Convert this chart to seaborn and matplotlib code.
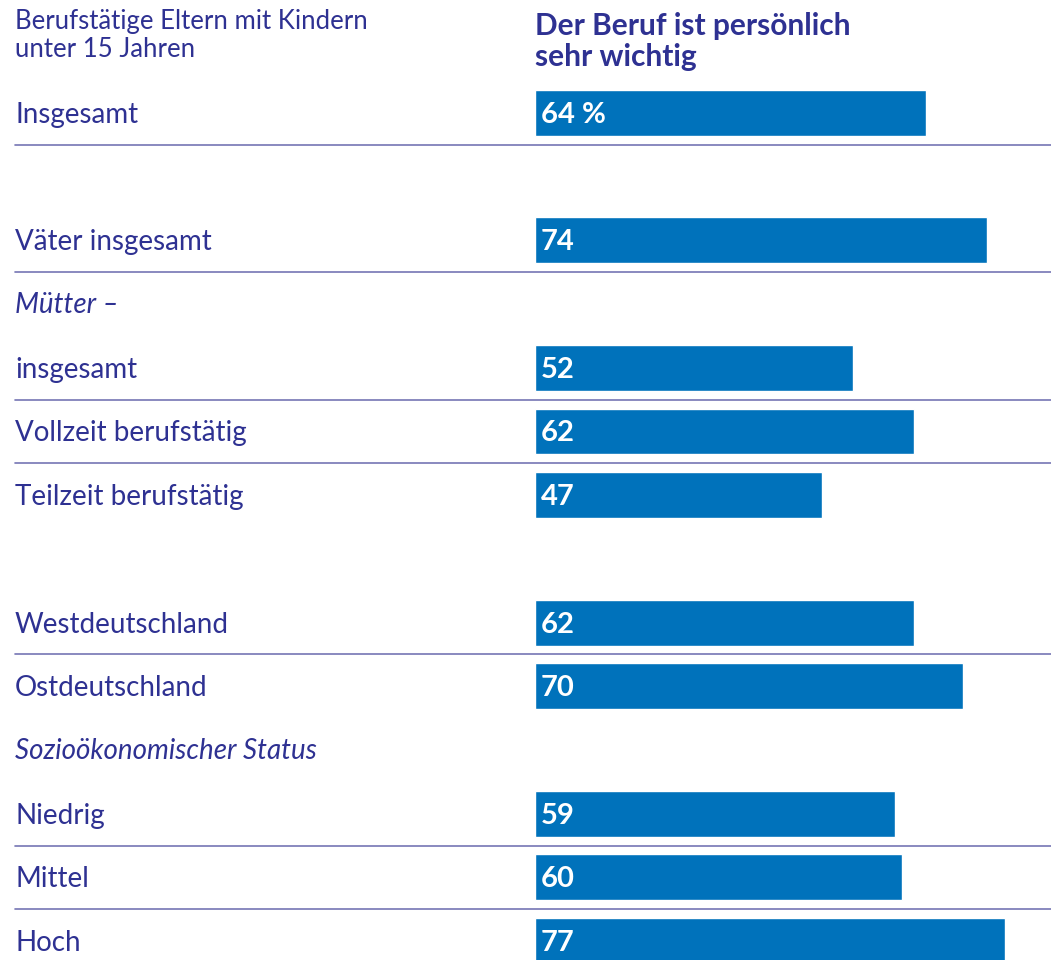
# -*- coding: utf-8 -*-
"""Balkendiagramm: Der Beruf ist persönlich sehr wichtig."""

import matplotlib
matplotlib.use("Agg")
import matplotlib.pyplot as plt
import matplotlib.transforms as mtransforms
import seaborn as sns
import pandas as pd

# Daten
categories = ["Insgesamt", "Väter insgesamt", "insgesamt", "Vollzeit berufstätig",
              "Teilzeit berufstätig", "Westdeutschland", "Ostdeutschland",
              "Niedrig", "Mittel", "Hoch"]
values = [64, 74, 52, 62, 47, 62, 70, 59, 60, 77]
headings = ["Mütter –", "Sozioökonomischer Status"]
title_left = "Berufstätige Eltern mit Kindern\nunter 15 Jahren"
title_right = "Der Beruf ist persönlich\nsehr wichtig"

# Layout (Zeilen-Slots)
bar_slots = [0, 2, 4, 5, 6, 8, 9, 11, 12, 13]
heading_slots = [3, 10]
divider_after = [0, 1, 2, 3, 5, 7, 8]  # Index der Balken mit Trennlinie darunter

BAR = "#0072bb"
TEXT = "#2e3192"
LINE = "#7676b4"

sns.set_theme(style="white")
plt.rcParams["font.family"] = ["Lato", "DejaVu Sans"]

W, H = 1051, 960
fig = plt.figure(figsize=(W / 100, H / 100), dpi=100)
ax = fig.add_axes([535 / W, 0, 1 - 535 / W, 1])

df = pd.DataFrame({"value": values, "slot": bar_slots})
sns.barplot(data=df, x="value", y="slot", orient="h", native_scale=True,
            color=BAR, saturation=1, width=0.72, ax=ax)

px_per_unit = 6.11
row_px = 63.7
first_px = 113
ax.set_xlim(0, (W - 535) / px_per_unit)
ax.set_ylim((H - first_px) / row_px, -first_px / row_px)
ax.axis("off")

lbl = mtransforms.blended_transform_factory(fig.transFigure, ax.transData)

for i, (cat, val, slot) in enumerate(zip(categories, values, bar_slots)):
    ax.text(15 / W, slot + 0.03, cat, transform=lbl, ha="left", va="center",
            fontsize=20, color=TEXT)
    txt = f"{val} %" if i == 0 else str(val)
    ax.text(0.95, slot + 0.03, txt, ha="left", va="center", fontsize=21,
            fontweight="bold", color="white")

for head, slot in zip(headings, heading_slots):
    ax.text(15 / W, slot + 0.02, head, transform=lbl, ha="left", va="center",
            fontsize=20, color=TEXT, style="italic")

for i in divider_after:
    y = bar_slots[i] + 0.5
    ax.plot([15 / W, 1], [y, y], transform=lbl,
            color=LINE, linewidth=1.2, clip_on=False)

fig.text(15 / W, 1 - 9 / H, title_left, ha="left", va="top", fontsize=18.5,
         color=TEXT, linespacing=1.15)
fig.text(535 / W, 1 - 12 / H, title_right, ha="left", va="top", fontsize=21.5,
         fontweight="bold", color=TEXT, linespacing=1.12)

fig.savefig("out.png", dpi=100)
plt.close(fig)
